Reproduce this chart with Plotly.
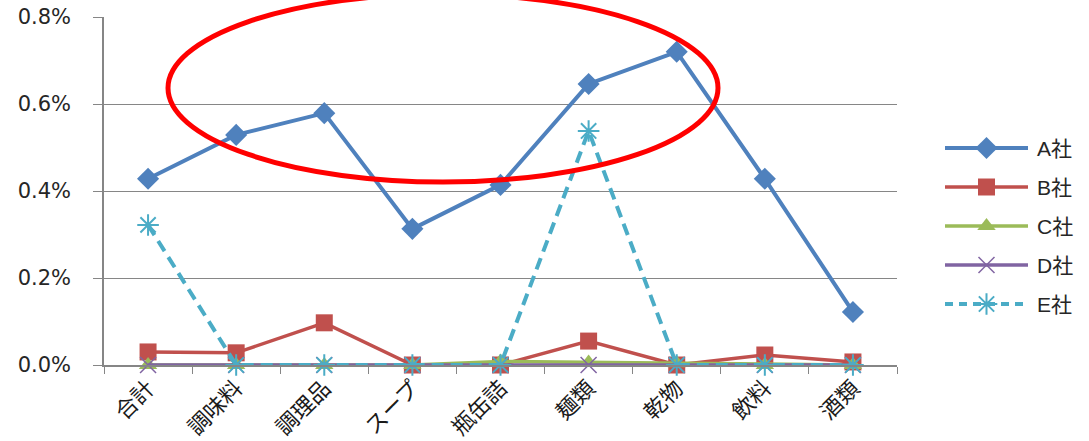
import plotly.graph_objects as go

# ---- data (share, %) ----
categories = ["合計", "調味料", "調理品", "スープ", "瓶缶詰", "麺類", "乾物", "飲料", "酒類"]
series_names = ["A社", "B社", "C社", "D社", "E社"]
a_share = [0.428, 0.529, 0.579, 0.313, 0.414, 0.646, 0.720, 0.428, 0.122]
b_share = [0.030, 0.028, 0.097, 0.000, 0.000, 0.055, 0.000, 0.023, 0.007]
c_share = [0.000, 0.000, 0.000, 0.000, 0.008, 0.006, 0.004, 0.000, 0.000]
d_share = [0.000, 0.000, 0.000, 0.000, 0.000, 0.000, 0.000, 0.000, 0.000]
e_share = [0.322, 0.000, 0.000, 0.000, 0.000, 0.538, 0.000, 0.000, 0.000]
y_ticks = [0.0, 0.2, 0.4, 0.6, 0.8]
y_tick_labels = [f"{v:.1f}%" for v in y_ticks]

series_values = [a_share, b_share, c_share, d_share, e_share]

# ---- styling ----
styles = [
    dict(color="#4F81BD", width=4, dash="solid", symbol="diamond", size=17, mline=0),
    dict(color="#C0504D", width=3.5, dash="solid", symbol="square", size=17, mline=0),
    dict(color="#9BBB59", width=3.5, dash="solid", symbol="triangle-up", size=16, mline=0),
    dict(color="#8064A2", width=3.5, dash="solid", symbol="x-thin-open", size=16, mline=1.5),
    dict(color="#4BACC6", width=4, dash="12px,7px", symbol="asterisk-open", size=18, mline=2),
]

W, H = 1089, 441
ML, MR, MT, MB = 104, 0, 17, 76
PW = W - ML - MR
PH = H - MT - MB
PLOT_RIGHT = 897  # right edge of the category area in pixels


def px_x(px):
    return (px - ML) / PW


def px_y(py):
    return (H - MB - py) / PH


text_font = "Liberation Sans, Noto Sans CJK JP, sans-serif"
cjk_font = "Noto Sans CJK JP, sans-serif"
axis_grey = "#868686"

fig = go.Figure()

for name, vals, st in zip(series_names, series_values, styles):
    fig.add_trace(go.Scatter(
        x=categories, y=vals, name=name, mode="lines+markers",
        line=dict(color=st["color"], width=st["width"], dash=st["dash"]),
        marker=dict(symbol=st["symbol"], size=st["size"], color=st["color"],
                    line=dict(color=st["color"], width=st["mline"])),
        cliponaxis=False, showlegend=False,
    ))

# hand-drawn legend on its own small axis pair
for i, (name, st) in enumerate(zip(series_names, styles)):
    fig.add_trace(go.Scatter(
        x=[0, 1], y=[i, i], mode="lines",
        line=dict(color=st["color"], width=st["width"],
                  dash="8px,6px" if st["dash"] != "solid" else "solid"),
        xaxis="x2", yaxis="y2", cliponaxis=False, showlegend=False, hoverinfo="skip",
    ))
    fig.add_trace(go.Scatter(
        x=[0.5], y=[i], mode="markers",
        marker=dict(symbol=st["symbol"], size=st["size"], color=st["color"],
                    line=dict(color=st["color"], width=st["mline"])),
        xaxis="x2", yaxis="y2", cliponaxis=False, showlegend=False, hoverinfo="skip",
    ))
    fig.add_annotation(
        x=px_x(1035), xref="paper", y=i, yref="y2", text=name, showarrow=False,
        xanchor="left", yanchor="middle", font=dict(family=text_font, size=21, color="#262626"),
    )

fig.update_layout(
    width=W, height=H,
    margin=dict(l=ML, r=MR, t=MT, b=MB),
    paper_bgcolor="white", plot_bgcolor="white",
    showlegend=False,
    xaxis=dict(
        domain=[0, px_x(PLOT_RIGHT)], type="category", range=[-0.5, len(categories) - 0.5],
        tickangle=-45, ticks="outside", tickson="boundaries", ticklen=7,
        tickcolor=axis_grey, showline=True, linecolor=axis_grey, linewidth=1.5,
        showgrid=False, zeroline=False, automargin=False,
        tickfont=dict(family=cjk_font, size=22, color="#1a1a1a"),
    ),
    yaxis=dict(
        range=[0, 0.8], tickvals=y_ticks, ticktext=y_tick_labels,
        showgrid=True, gridcolor=axis_grey, gridwidth=1,
        showline=True, linecolor=axis_grey, linewidth=1.5,
        ticks="outside", ticklen=9, tickcolor=axis_grey, zeroline=False,
        ticklabelstandoff=18, automargin=False,
        tickfont=dict(family="DejaVu Sans, sans-serif", size=21, color="#262626"),
    ),
    xaxis2=dict(domain=[px_x(945), px_x(1028)], range=[0, 1], visible=False,
                anchor="y2", fixedrange=True),
    yaxis2=dict(domain=[px_y(323.5), px_y(128.5)], range=[4.5, -0.5], visible=False,
                anchor="x2", fixedrange=True),
    shapes=[dict(
        type="circle", xref="paper", yref="paper",
        x0=px_x(168), x1=px_x(718), y0=px_y(182), y1=px_y(-6),
        line=dict(color="#FF0000", width=5), layer="above",
    )],
)

fig.write_html("out.html")
